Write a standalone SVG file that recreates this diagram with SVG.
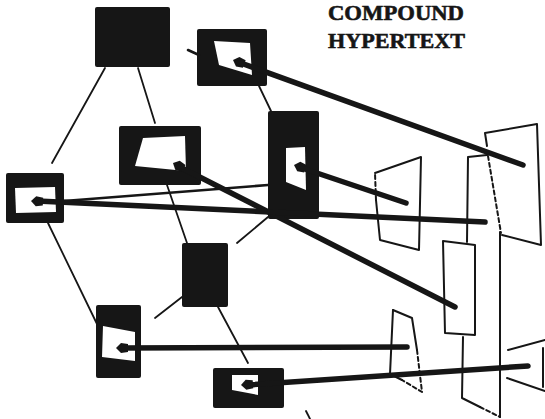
<svg xmlns="http://www.w3.org/2000/svg" width="545" height="419" viewBox="0 0 545 419">
<style>
.frame{fill:#161616}
.win{fill:#ffffff}
.thin{stroke:#161616;stroke-width:1.8;fill:none;stroke-linecap:round}
.med{stroke:#161616;stroke-width:2.6;fill:none;stroke-linecap:round}
.thick{stroke:#161616;stroke-width:5.5;fill:none;stroke-linecap:round}
.page{stroke:#161616;stroke-width:2;fill:none;stroke-linejoin:round;stroke-linecap:round}
.dash{stroke-dasharray:4 3}
.title{font-family:"Liberation Serif","Times New Roman",serif;font-weight:bold;font-size:22px;fill:#161616;stroke:#161616;stroke-width:0.6}
</style>
<defs>
<path id="tip" d="M0,0 L5,-5 L12,-4 L12,4 L5,5 Z" fill="#161616"/>
</defs>
<rect width="545" height="419" fill="#ffffff"/>

<g id="title">
<text class="title" x="328" y="20" textLength="136" lengthAdjust="spacingAndGlyphs">COMPOUND</text>
<text class="title" x="328" y="48" textLength="137" lengthAdjust="spacingAndGlyphs">HYPERTEXT</text>
</g>

<g id="nodeA"><rect class="frame" x="95" y="7" width="75" height="60" rx="2"/></g>
<g id="nodeB">
<rect class="frame" x="197" y="29" width="70" height="57" rx="2"/>
<polygon class="win" points="214,41 250,43 252,75 219,65"/>
<use href="#tip" transform="translate(233,60) rotate(20)"/>
</g>
<g id="nodeC">
<rect class="frame" x="119" y="126" width="82" height="59" rx="2"/>
<polygon class="win" points="143,138 185,136 186,171 135,166"/>
<use href="#tip" transform="translate(173,163) rotate(27)"/>
</g>
<g id="nodeD">
<rect class="frame" x="6" y="173" width="58" height="50" rx="2"/>
<polygon class="win" points="15,188 55,187 56,212 16,213"/>
<use href="#tip" transform="translate(31,201) rotate(3)"/>
</g>
<g id="nodeE">
<rect class="frame" x="268" y="111" width="51" height="108" rx="2"/>
<polygon class="win" points="286,148 305,147 306,190 286,182"/>
<use href="#tip" transform="translate(294,165) rotate(18)"/>
</g>
<g id="nodeF"><rect class="frame" x="182" y="243" width="46" height="64" rx="2"/></g>
<g id="nodeG">
<rect class="frame" x="96" y="305" width="45" height="73" rx="2"/>
<polygon class="win" points="103,326 135,332 135,361 102,357"/>
<use href="#tip" transform="translate(116,348)"/>
</g>
<g id="nodeH">
<rect class="frame" x="213" y="368" width="71" height="40" rx="2"/>
<polygon class="win" points="232,375 258,375 258,395 232,390"/>
<use href="#tip" transform="translate(241,385) rotate(-4)"/>
</g>

<g id="pages">
<g id="page1">
<path class="page" d="M375,173 L421,157 L419,250 L380,240 L376,200"/>
<path class="page dash" d="M376,200 L375,173"/>
</g>
<g id="page2">
<path class="page" d="M393,310 L412,318 L417,350"/>
<path class="page dash" d="M417,350 L422,392 L402,380"/>
<path class="page" d="M402,380 L390,374 L393,310"/>
</g>
<g id="page3">
<polygon class="page" points="443,241 475,245 475,335 445,333"/>
</g>
<g id="page4">
<path class="page" d="M467,242 L468,157 L487,155"/>
<path class="page" d="M463,337 L462,398 L480,407"/>
<path class="page dash" d="M480,407 L500,417"/>
<path class="page" d="M500,232 L500,417"/>
</g>
<g id="page5">
<path class="page" d="M487,146 L485,133 L537,124 L541,245 L502,235"/>
<path class="page dash" d="M488,156 L501,233"/>
</g>
<g id="page6">
<path class="page" d="M508,350 L545,340"/>
<path class="page" d="M507,378 L545,391"/>
<path class="page" d="M543,348 L543,387"/>
</g>
</g>

<g id="connectors">
<line class="thin" x1="105" y1="68" x2="52" y2="163"/>
<line class="thin" x1="138" y1="68" x2="155" y2="123"/>
<line class="thin" x1="259" y1="86" x2="271" y2="111"/>
<line class="thin" x1="167" y1="185" x2="187" y2="243"/>
<line class="thin" x1="48" y1="223" x2="97" y2="324"/>
<line class="thin" x1="237" y1="243" x2="268" y2="217"/>
<line class="thin" x1="182" y1="297" x2="155" y2="318"/>
<line class="thin" x1="218" y1="307" x2="248" y2="363"/>
<line class="thin" x1="306" y1="411" x2="310" y2="419"/>
<line class="med" x1="64" y1="201" x2="268" y2="185"/>
<line class="med" x1="188" y1="50" x2="199" y2="55"/>
<line class="thick" x1="238" y1="62" x2="523" y2="165"/>
<line class="thick" x1="178" y1="166" x2="455" y2="307"/>
<line class="thick" x1="37" y1="201" x2="485" y2="222"/>
<line class="thick" x1="299" y1="167" x2="406" y2="203"/>
<line class="thick" x1="122" y1="348" x2="407" y2="347"/>
<line class="thick" x1="247" y1="385" x2="528" y2="366"/>
</g>
</svg>
